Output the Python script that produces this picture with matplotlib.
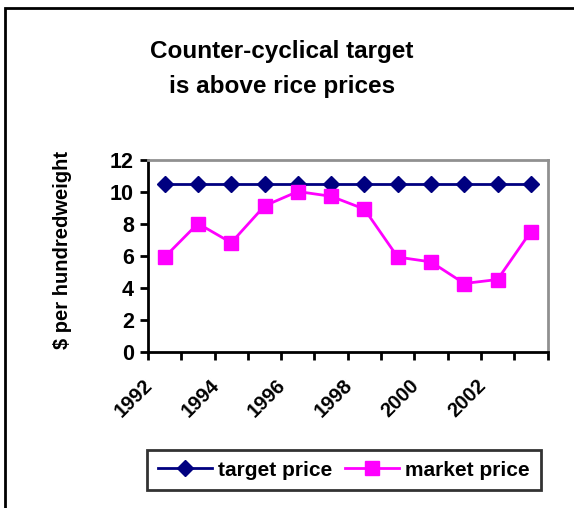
import matplotlib
matplotlib.use("Agg")
import matplotlib.pyplot as plt
from matplotlib.patches import Rectangle
from matplotlib.lines import Line2D

years = [1992, 1993, 1994, 1995, 1996, 1997, 1998, 1999, 2000, 2001, 2002, 2003]
target_price = [10.5] * 12
market_price = [5.9, 8.0, 6.8, 9.1, 10.0, 9.7, 8.9, 5.9, 5.6, 4.25, 4.5, 7.5]
tick_labels = ["1992", "1994", "1996", "1998", "2000", "2002"]
title = "Counter-cyclical target\nis above rice prices"

plt.rcParams['font.family'] = ['Liberation Sans', 'DejaVu Sans']
plt.rcParams['font.weight'] = 'bold'

W, H = 574, 508
fig = plt.figure(figsize=(W / 100, H / 100), dpi=100)

# outer border (only top/left visible)
fig.patches.append(Rectangle((5 / W, 0 - 0.1), 1.2, (H - 8) / H + 0.1,
                             transform=fig.transFigure, fill=False,
                             edgecolor='black', linewidth=2.0))

x0, x1 = 148, 547.5
y0, y1 = 351.5, 159.5
ax = fig.add_axes([x0 / W, 1 - y0 / H, (x1 - x0) / W, (y0 - y1) / H])

n = len(years)
xpos = [i + 0.5 for i in range(n)]
ax.plot(xpos, target_price, color='#000080', linewidth=2, marker='D',
        markersize=8, markerfacecolor='#000080', markeredgecolor='#000080')
ax.plot(xpos, market_price, color='#FF00FF', linewidth=2, marker='s',
        markersize=10, markerfacecolor='#FF00FF', markeredgecolor='#FF00FF')

ax.set_xlim(0, n)
ax.set_ylim(0, 12)
ax.set_yticks(range(0, 13, 2))
ax.set_yticklabels([str(v) for v in range(0, 13, 2)], fontsize=15.5, fontweight='bold')
ax.set_xticks(range(0, n + 1))
ax.set_xticklabels([])
for i, lab in enumerate(tick_labels):
    ax.text(2 * i - 0.15, -1.5, lab, rotation=45, ha='right', va='top',
            rotation_mode='anchor', fontsize=14.5, fontweight='bold',
            transform=ax.transData, clip_on=False)

ax.tick_params(axis='x', length=6, width=2, direction='out', color='black')
ax.tick_params(axis='y', length=6, width=2, direction='out', color='black', pad=4)
ax.spines['left'].set_linewidth(2)
ax.spines['bottom'].set_linewidth(2)
ax.spines['top'].set_color('#909090')
ax.spines['right'].set_color('#909090')
ax.spines['top'].set_linewidth(2)
ax.spines['right'].set_linewidth(2)

fig.text(62 / W, 1 - 250 / H, "$ per hundredweight", rotation=90,
         ha='center', va='center', fontsize=14.5, fontweight='bold')

fig.text(282 / W, 1 - 69 / H, title, ha='center', va='center',
         fontsize=17.5, fontweight='bold', linespacing=1.7)

handles = [
    Line2D([], [], color='#000080', linewidth=2, marker='D', markersize=8),
    Line2D([], [], color='#FF00FF', linewidth=2, marker='s', markersize=10),
]
leg = fig.legend(handles, ["target price", "market price"], loc='center',
                 bbox_to_anchor=(344 / W, 1 - 470 / H), ncol=2,
                 prop={'size': 15, 'weight': 'bold'}, frameon=True,
                 fancybox=False, edgecolor='black', handlelength=2.6,
                 columnspacing=0.6, handletextpad=0.3, borderpad=0.5)
leg.get_frame().set_linewidth(2)

fig.savefig("out.png", dpi=100)
